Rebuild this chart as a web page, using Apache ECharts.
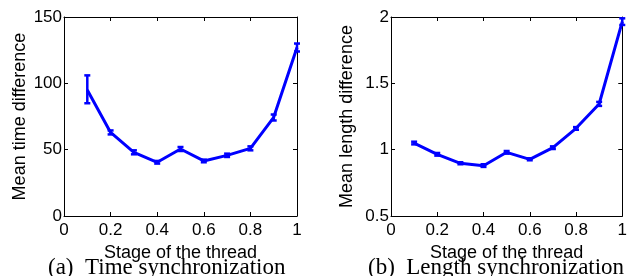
<!DOCTYPE html>
<html>
<head>
<meta charset="utf-8">
<script src="https://cdn.jsdelivr.net/npm/echarts@6/dist/echarts.min.js"></script>
<style>
html, body { margin: 0; padding: 0; background: #fff; }
#chart { width: 630px; height: 276px; }
</style>
</head>
<body>
<div id="chart"></div>
<script>
// stage of the thread
var stages = [0.1, 0.2, 0.3, 0.4, 0.5, 0.6, 0.7, 0.8, 0.9, 1.0];
// (a) time synchronization
var timeMean = [95, 63, 48, 40.5, 50.5, 41.5, 45.7, 51, 74.4, 127];
var timeLow  = [85, 61.5, 46.5, 39.5, 49, 40.5, 44.5, 49.5, 72, 124];
var timeHigh = [106, 64.5, 49.5, 41.5, 52, 42.5, 47, 52.5, 76.5, 130];
// (b) length synchronization
var lenMean = [1.05, 0.965, 0.897, 0.879, 0.98, 0.927, 1.015, 1.161, 1.344, 1.965];
var lenLow  = [1.04, 0.955, 0.89, 0.87, 0.97, 0.92, 1.005, 1.15, 1.33, 1.94];
var lenHigh = [1.06, 0.975, 0.905, 0.89, 0.99, 0.935, 1.025, 1.17, 1.36, 1.99];

var font = "'Liberation Sans', Arial, sans-serif";
var serif = "'Liberation Serif', 'Times New Roman', serif";
var blue = '#0000ff';

function pairs(xs, ys) {
  return xs.map(function (x, i) { return [x, ys[i]]; });
}
function bars(xs, lo, hi) {
  return xs.map(function (x, i) { return [x, lo[i], hi[i]]; });
}

function errorBar(params, api) {
  var x = api.value(0);
  var p1 = api.coord([x, api.value(1)]);
  var p2 = api.coord([x, api.value(2)]);
  var cap = 3;
  var st = { stroke: blue, lineWidth: 2.5 };
  return {
    type: 'group',
    children: [
      { type: 'line', shape: { x1: p1[0], y1: p1[1], x2: p2[0], y2: p2[1] }, style: st },
      { type: 'line', shape: { x1: p1[0] - cap, y1: p1[1], x2: p1[0] + cap, y2: p1[1] }, style: st },
      { type: 'line', shape: { x1: p2[0] - cap, y1: p2[1], x2: p2[0] + cap, y2: p2[1] }, style: st }
    ]
  };
}

function xAx(gi, top) {
  return {
    type: 'value', gridIndex: gi, min: 0, max: 1, interval: 0.2,
    position: top ? 'top' : 'bottom',
    name: top ? '' : 'Stage of the thread',
    nameLocation: 'middle', nameGap: 21,
    nameTextStyle: { fontFamily: font, fontSize: 18, color: '#000' },
    axisLine: { show: true, onZero: false, lineStyle: { color: '#000', width: 1 } },
    axisTick: { show: true, inside: true, length: 4, lineStyle: { color: '#000' } },
    axisLabel: { show: !top, fontFamily: font, fontSize: 17, color: '#000', margin: 6 },
    splitLine: { show: false }
  };
}
function yAx(gi, right, min, max, interval, name) {
  return {
    type: 'value', gridIndex: gi, min: min, max: max, interval: interval,
    position: right ? 'right' : 'left',
    name: right ? '' : name,
    nameLocation: 'middle', nameGap: 35,
    nameTextStyle: { fontFamily: font, fontSize: 18, color: '#000' },
    axisLine: { show: true, onZero: false, lineStyle: { color: '#000', width: 1 } },
    axisTick: { show: true, inside: true, length: 4, lineStyle: { color: '#000' } },
    axisLabel: { show: !right, fontFamily: font, fontSize: 17, color: '#000', margin: 2 },
    splitLine: { show: false }
  };
}

var chart = echarts.init(document.getElementById('chart'));
chart.setOption({
  animation: false,
  backgroundColor: '#fff',
  title: [
    { text: '(a)  Time synchronization', left: 43, top: 251,
      textStyle: { fontFamily: serif, fontSize: 23, fontWeight: 'normal', color: '#000' } },
    { text: '(b)  Length synchronization', left: 363, top: 251,
      textStyle: { fontFamily: serif, fontSize: 23, fontWeight: 'normal', color: '#000' } }
  ],
  grid: [
    { left: 64, top: 17, width: 233, height: 199 },
    { left: 391, top: 17, width: 236, height: 199 }
  ],
  xAxis: [xAx(0, false), xAx(1, false), xAx(0, true), xAx(1, true)],
  yAxis: [
    yAx(0, false, 0, 150, 50, 'Mean time difference'),
    yAx(1, false, 0.5, 2, 0.5, 'Mean length difference'),
    yAx(0, true, 0, 150, 50, ''),
    yAx(1, true, 0.5, 2, 0.5, '')
  ],
  series: [
    { type: 'line', xAxisIndex: 0, yAxisIndex: 0, data: pairs(stages, timeMean),
      showSymbol: false, lineStyle: { color: blue, width: 3 }, z: 3 },
    { type: 'custom', xAxisIndex: 0, yAxisIndex: 0, data: bars(stages, timeLow, timeHigh),
      renderItem: errorBar, z: 4 },
    { type: 'line', xAxisIndex: 1, yAxisIndex: 1, data: pairs(stages, lenMean),
      showSymbol: false, lineStyle: { color: blue, width: 3 }, z: 3 },
    { type: 'custom', xAxisIndex: 1, yAxisIndex: 1, data: bars(stages, lenLow, lenHigh),
      renderItem: errorBar, z: 4 }
  ]
});
</script>
</body>
</html>
